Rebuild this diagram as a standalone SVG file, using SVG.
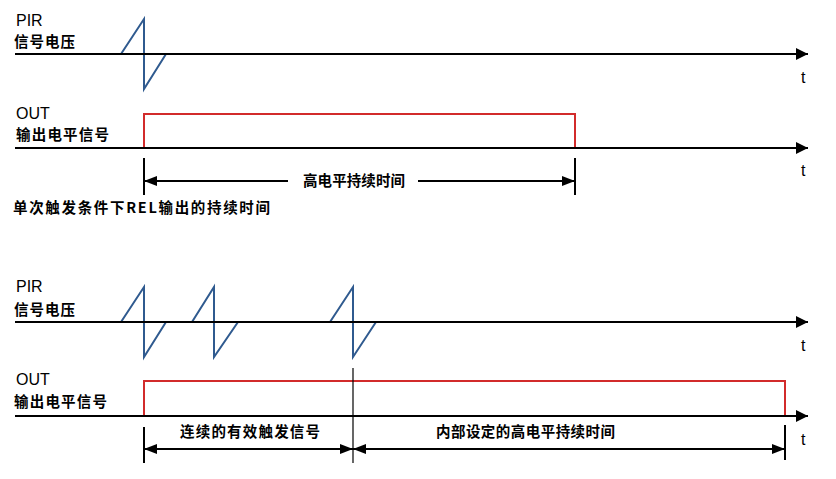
<svg xmlns="http://www.w3.org/2000/svg" width="836" height="479" viewBox="0 0 836 479">
<style>
.ax{stroke:#000;stroke-width:2;fill:none;marker-end:url(#axh)}
.dim{stroke:#000;stroke-width:2;fill:none}
.tick{stroke:#000;stroke-width:2}
.thin{stroke:#000;stroke-width:1.2}
.wave{stroke:#2f5a8f;stroke-width:2;fill:none;stroke-linejoin:miter}
.out{stroke:#d22b2b;stroke-width:2;fill:none}
.lat{font-family:"Liberation Sans",Arial,sans-serif;font-size:16px;fill:#000}
.cjk{font-family:"Noto Sans CJK SC","Liberation Sans",sans-serif;font-size:14.5px;font-weight:bold;fill:#000}
</style>
<defs>
<marker id="axh" viewBox="0 0 12 12" refX="12" refY="6" markerWidth="12" markerHeight="12" markerUnits="userSpaceOnUse" orient="auto"><path d="M0,0 L12,6 L0,12 z" fill="#000"/></marker>
<marker id="dh" viewBox="0 0 13 10" refX="13" refY="5" markerWidth="13" markerHeight="10" markerUnits="userSpaceOnUse" orient="auto-start-reverse"><path d="M0,0 L13,5 L0,10 z" fill="#000"/></marker>
</defs>
<rect width="836" height="479" fill="#fff"/>

<g id="top-pir">
<text class="lat" x="16" y="26">PIR</text>
<text class="cjk" x="14" y="47" textLength="61" lengthAdjust="spacing">信号电压</text>
<path class="wave" d="M121,54 L144,19 L144,89 L166,54"/>
</g>
<g id="top-out">
<text class="lat" x="16" y="119">OUT</text>
<text class="cjk" x="16" y="140" textLength="93" lengthAdjust="spacing">输出电平信号</text>
<path class="out" d="M144,148 L144,114 L575,114 L575,148"/>
</g>
<g id="top-caption">
<text class="cjk" x="303" y="186" textLength="102" lengthAdjust="spacing">高电平持续时间</text>
<text class="cjk" x="13" y="213" textLength="257" lengthAdjust="spacing">单次触发条件下REL输出的持续时间</text>
</g>

<g id="bottom-pir">
<text class="lat" x="16" y="292">PIR</text>
<text class="cjk" x="14" y="315" textLength="61" lengthAdjust="spacing">信号电压</text>
<path class="wave" d="M121,322 L144,287 L144,357 L166,322"/>
<path class="wave" d="M192,322 L214,287 L214,357 L238,322"/>
<path class="wave" d="M330,322 L353,287 L353,357 L376,322"/>
</g>
<g id="bottom-out">
<text class="lat" x="16" y="385">OUT</text>
<text class="cjk" x="14" y="407" textLength="93" lengthAdjust="spacing">输出电平信号</text>
<path class="out" d="M144,416 L144,381 L785,381 L785,416"/>
</g>
<g id="bottom-caption">
<text class="cjk" x="180" y="437" textLength="140" lengthAdjust="spacing">连续的有效触发信号</text>
<text class="cjk" x="436" y="437" textLength="179" lengthAdjust="spacing">内部设定的高电平持续时间</text>
</g>

<g id="axes">
<line class="ax" x1="15" y1="54" x2="808" y2="54"/>
<text class="lat" x="801" y="83">t</text>
<line class="ax" x1="15" y1="148" x2="808" y2="148"/>
<text class="lat" x="801" y="176">t</text>
<line class="ax" x1="15" y1="322" x2="808" y2="322"/>
<text class="lat" x="801" y="351">t</text>
<line class="ax" x1="15" y1="416" x2="808" y2="416"/>
<text class="lat" x="801" y="445">t</text>
</g>

<g id="connectors">
<line class="tick" x1="144" y1="158" x2="144" y2="195"/>
<line class="tick" x1="575" y1="158" x2="575" y2="195"/>
<line class="dim" x1="144" y1="181" x2="288" y2="181" style="marker-start:url(#dh)"/>
<line class="dim" x1="418" y1="181" x2="575" y2="181" style="marker-end:url(#dh)"/>

<line class="thin" x1="353" y1="368" x2="353" y2="463"/>
<line class="tick" x1="144" y1="427" x2="144" y2="463"/>
<line class="tick" x1="785" y1="425" x2="785" y2="460"/>
<line class="dim" x1="144" y1="449" x2="353" y2="449" style="marker-start:url(#dh);marker-end:url(#dh)"/>
<line class="dim" x1="353" y1="449" x2="785" y2="449" style="marker-start:url(#dh);marker-end:url(#dh)"/>
</g>
</svg>
